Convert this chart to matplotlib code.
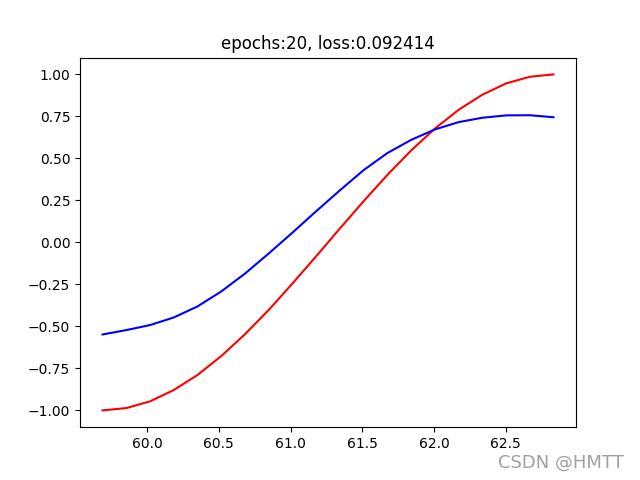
import matplotlib
matplotlib.use('Agg')
import matplotlib.pyplot as plt

steps = [59.690, 59.856, 60.021, 60.186, 60.352, 60.517, 60.682, 60.848, 61.013, 61.178,
         61.344, 61.509, 61.675, 61.840, 62.005, 62.171, 62.336, 62.501, 62.667, 62.832]
y_true = [-1.000, -0.986, -0.946, -0.879, -0.789, -0.677, -0.547, -0.402, -0.245, -0.083,
          0.083, 0.245, 0.402, 0.547, 0.677, 0.789, 0.879, 0.946, 0.986, 1.000]
y_pred = [-0.548, -0.522, -0.492, -0.447, -0.381, -0.292, -0.186, -0.066, 0.058, 0.185,
          0.310, 0.430, 0.532, 0.610, 0.672, 0.716, 0.742, 0.756, 0.757, 0.745]

fig, ax = plt.subplots()
ax.plot(steps, y_true, 'r-')
ax.plot(steps, y_pred, 'b-')
ax.set_title('epochs:20, loss:0.092414')

fig.text(0.975, 0.035, 'CSDN @HMTT', color='#a0a0a0', fontsize=13, ha='right', va='center')

fig.savefig('out.png')
